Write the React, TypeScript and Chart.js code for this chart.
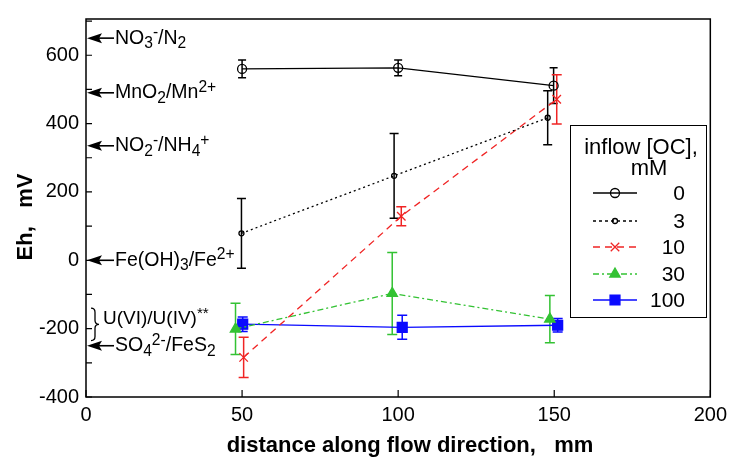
import React, { useEffect, useRef } from "react";
import { Chart, registerables } from "chart.js";
import { drawPoint } from "chart.js/helpers";

Chart.register(...registerables);

const FONT = '"Liberation Sans", Arial, Helvetica, sans-serif';

// ---- data ----
const seriesLabels = ["0", "3", "10", "30", "100"];

const x_0 = [50, 100, 149.8];
const y_0 = [560, 563, 511];
const e_0 = [26, 23, 52];

const x_3 = [49.8, 98.7, 147.9];
const y_3 = [79, 247, 417];
const e_3 = [102, 124, 79];

const x_10 = [50.5, 101, 150.8];
const y_10 = [-284, 129, 471];
const e_10 = [59, 28, 72];

const x_30 = [47.9, 98.1, 148.6];
const y_30 = [-201, -97, -172];
const e_30 = [75, 120, 69];

const x_100 = [50.2, 101.3, 151.1];
const y_100 = [-187, -196, -190];
const e_100 = [21, 35, 20];

const xTicks = [0, 50, 100, 150, 200];
const yTicks = [-400, -300, -200, -100, 0, 100, 200, 300, 400, 500, 600, 700];
const yLabelTicks = [-400, -200, 0, 200, 400, 600];

// redox couples (arrow positions in mV)
type Seg = { t: string; k?: "sub" | "sup" };
const coupleValues = [650, 490, 335, 0, -250];
const coupleTexts: Seg[][] = [
  [{ t: "NO" }, { t: "3", k: "sub" }, { t: "-", k: "sup" }, { t: "/N" }, { t: "2", k: "sub" }],
  [{ t: "MnO" }, { t: "2", k: "sub" }, { t: "/Mn" }, { t: "2+", k: "sup" }],
  [{ t: "NO" }, { t: "2", k: "sub" }, { t: "-", k: "sup" }, { t: "/NH" }, { t: "4", k: "sub" }, { t: "+", k: "sup" }],
  [{ t: "Fe(OH)" }, { t: "3", k: "sub" }, { t: "/Fe" }, { t: "2+", k: "sup" }],
  [{ t: "SO" }, { t: "4", k: "sub" }, { t: "2-", k: "sup" }, { t: "/FeS" }, { t: "2", k: "sub" }],
];
const uranRange = [-140, -235];
const uranTextValue = -172;
const uranText: Seg[] = [{ t: "U(VI)/U(IV)" }, { t: "**", k: "sup" }];

const legendTitle = ["inflow [OC],", "mM"];
const xTitle = "distance along flow direction,   mm";
const yTitle = "Eh,   mV";

type Style = {
  color: string;
  dash: number[];
  pointStyle: string;
  radius: number;
  filled: boolean;
  cap: number;
};
const styles: Style[] = [
  { color: "#000000", dash: [], pointStyle: "circle", radius: 4.5, filled: false, cap: 4 },
  { color: "#000000", dash: [2, 3], pointStyle: "circle", radius: 2.5, filled: false, cap: 4.5 },
  { color: "#f02424", dash: [7, 5], pointStyle: "crossRot", radius: 6, filled: false, cap: 5 },
  { color: "#33c233", dash: [6, 3, 2, 3], pointStyle: "triangle", radius: 6, filled: true, cap: 5 },
  { color: "#0a0aff", dash: [], pointStyle: "rect", radius: 7, filled: true, cap: 5 },
];

const xs = [x_0, x_3, x_10, x_30, x_100];
const ys = [y_0, y_3, y_10, y_30, y_100];
const es = [e_0, e_3, e_10, e_30, e_100];

function drawRich(ctx: CanvasRenderingContext2D, segs: Seg[], x: number, y: number, size: number) {
  let cx = x;
  ctx.textAlign = "left";
  ctx.textBaseline = "middle";
  for (const s of segs) {
    const fs = s.k ? size * 0.8 : size;
    ctx.font = `${fs}px ${FONT}`;
    const dy = s.k === "sub" ? size * 0.3 : s.k === "sup" ? -size * 0.28 : 0;
    ctx.fillText(s.t, cx, y + dy);
    cx += ctx.measureText(s.t).width;
  }
}

const overlay = {
  id: "overlay",
  beforeDatasetsDraw(chart: any) {
    const ctx: CanvasRenderingContext2D = chart.ctx;
    const xs_ = chart.scales.x;
    const ys_ = chart.scales.y;
    ctx.save();
    // error bars
    for (let s = 0; s < xs.length; s++) {
      const st = styles[s];
      ctx.strokeStyle = st.color;
      ctx.lineWidth = 1.5;
      ctx.setLineDash([]);
      for (let i = 0; i < xs[s].length; i++) {
        const px = xs_.getPixelForValue(xs[s][i]);
        const top = ys_.getPixelForValue(ys[s][i] + es[s][i]);
        const bot = ys_.getPixelForValue(ys[s][i] - es[s][i]);
        ctx.beginPath();
        ctx.moveTo(px, top);
        ctx.lineTo(px, bot);
        ctx.moveTo(px - st.cap, top);
        ctx.lineTo(px + st.cap, top);
        ctx.moveTo(px - st.cap, bot);
        ctx.lineTo(px + st.cap, bot);
        ctx.stroke();
      }
    }
    ctx.restore();
  },
  afterDraw(chart: any) {
    const ctx: CanvasRenderingContext2D = chart.ctx;
    const a = chart.chartArea;
    const xs_ = chart.scales.x;
    const ys_ = chart.scales.y;
    ctx.save();
    ctx.setLineDash([]);
    ctx.strokeStyle = "#000";
    ctx.fillStyle = "#000";
    // frame
    ctx.lineWidth = 1.5;
    ctx.strokeRect(a.left, a.top, a.right - a.left, a.bottom - a.top);
    // inward ticks
    ctx.lineWidth = 1.2;
    ctx.beginPath();
    for (const t of yTicks) {
      const py = ys_.getPixelForValue(t);
      ctx.moveTo(a.left, py);
      ctx.lineTo(a.left + 6, py);
    }
    for (const t of xTicks) {
      const px = xs_.getPixelForValue(t);
      ctx.moveTo(px, a.bottom);
      ctx.lineTo(px, a.bottom - 7);
    }
    ctx.stroke();

    // redox couple arrows
    for (let i = 0; i < coupleValues.length; i++) {
      const py = ys_.getPixelForValue(coupleValues[i]);
      const x0 = a.left + 1;
      ctx.beginPath();
      ctx.moveTo(x0, py);
      ctx.lineTo(x0 + 15, py - 5);
      ctx.lineTo(x0 + 12, py);
      ctx.lineTo(x0 + 15, py + 5);
      ctx.closePath();
      ctx.fill();
      ctx.lineWidth = 1.6;
      ctx.beginPath();
      ctx.moveTo(x0 + 11, py);
      ctx.lineTo(x0 + 27, py);
      ctx.stroke();
      drawRich(ctx, coupleTexts[i], x0 + 28, py, 19.5);
    }
    // uranium brace
    {
      const t = ys_.getPixelForValue(uranRange[0]);
      const b = ys_.getPixelForValue(uranRange[1]);
      const m = (t + b) / 2;
      const xl = a.left + 5;
      const xc = a.left + 9;
      const xr = a.left + 13;
      ctx.lineWidth = 1.3;
      ctx.beginPath();
      ctx.moveTo(xl, t);
      ctx.quadraticCurveTo(xc, t, xc, t + 4);
      ctx.lineTo(xc, m - 4);
      ctx.quadraticCurveTo(xc, m, xr, m);
      ctx.quadraticCurveTo(xc, m, xc, m + 4);
      ctx.lineTo(xc, b - 4);
      ctx.quadraticCurveTo(xc, b, xl, b);
      ctx.stroke();
      drawRich(ctx, uranText, a.left + 17, ys_.getPixelForValue(uranTextValue), 19);
    }

    // axis titles
    ctx.fillStyle = "#000";
    ctx.font = `bold 22px ${FONT}`;
    ctx.textAlign = "center";
    ctx.textBaseline = "middle";
    ctx.fillText(xTitle, 410, 446);
    ctx.save();
    ctx.translate(26, 217);
    ctx.rotate(-Math.PI / 2);
    ctx.fillText(yTitle, 0, 0);
    ctx.restore();

    // legend
    const L = 570.5, T = 125.5, W = 136, H = 192;
    ctx.fillStyle = "#fff";
    ctx.fillRect(L, T, W, H);
    ctx.strokeStyle = "#000";
    ctx.lineWidth = 1;
    ctx.strokeRect(L, T, W, H);
    ctx.fillStyle = "#000";
    ctx.font = `22px ${FONT}`;
    ctx.textAlign = "center";
    ctx.fillText(legendTitle[0], 641, 148);
    ctx.fillText(legendTitle[1], 649, 169);
    const rowY = [193, 221, 247, 274, 300];
    for (let s = 0; s < styles.length; s++) {
      const st = styles[s];
      const y = rowY[s];
      ctx.strokeStyle = st.color;
      ctx.lineWidth = 1.3;
      ctx.setLineDash(s === 1 ? [3, 3] : st.dash);
      ctx.beginPath();
      ctx.moveTo(593, y);
      ctx.lineTo(637, y);
      ctx.stroke();
      ctx.setLineDash([]);
      ctx.fillStyle = st.filled ? st.color : "rgba(0,0,0,0)";
      ctx.lineWidth = 1.3;
      drawPoint(ctx, { pointStyle: st.pointStyle, radius: st.radius, rotation: 0, borderWidth: 1.3 } as any, 615, y);
      ctx.fillStyle = "#000";
      ctx.font = `21px ${FONT}`;
      ctx.textAlign = "right";
      ctx.textBaseline = "middle";
      ctx.fillText(seriesLabels[s], 685, y + 1);
    }
    ctx.restore();
  },
};

export default function App() {
  const ref = useRef<HTMLCanvasElement | null>(null);
  useEffect(() => {
    if (!ref.current) return;
    const datasets = styles.map((st, s) => ({
      label: seriesLabels[s],
      data: xs[s].map((x, i) => ({ x, y: ys[s][i] })),
      borderColor: st.color,
      backgroundColor: st.filled ? st.color : "rgba(0,0,0,0)",
      borderWidth: 1.3,
      borderDash: st.dash,
      pointStyle: st.pointStyle,
      pointRadius: st.radius,
      pointBorderWidth: 1.3,
      pointBorderColor: st.color,
      pointBackgroundColor: st.filled ? st.color : "rgba(0,0,0,0)",
      showLine: true,
      tension: 0,
      fill: false,
    }));
    const chart = new Chart(ref.current, {
      type: "line",
      data: { datasets },
      options: {
        responsive: false,
        animation: false,
        devicePixelRatio: 1,
        layout: { padding: { top: 12, right: 21, left: 0, bottom: 0 } },
        plugins: { legend: { display: false }, tooltip: { enabled: false } },
        scales: {
          x: {
            type: "linear",
            min: 0,
            max: 200,
            grid: { display: false, drawTicks: false },
            border: { display: false },
            ticks: {
              stepSize: 50,
              color: "#000",
              font: { size: 20, family: FONT },
              padding: 6,
              maxRotation: 0,
              autoSkip: false,
            },
            afterFit: (sc: any) => {
              sc.height = 63;
            },
          },
          y: {
            type: "linear",
            min: -400,
            max: 706,
            grid: { display: false, drawTicks: false },
            border: { display: false },
            afterBuildTicks: (sc: any) => {
              sc.ticks = yLabelTicks.map((v) => ({ value: v }));
            },
            ticks: {
              autoSkip: false,
              color: "#000",
              font: { size: 20, family: FONT },
              padding: 7,
              callback: (v: any) => String(v),
            },
            afterFit: (sc: any) => {
              sc.width = 86;
            },
          },
        },
      } as any,
      plugins: [overlay],
    });
    return () => chart.destroy();
  }, []);
  return (
    <div style={{ position: "absolute", left: 0, top: 0, width: 733, height: 460, background: "#fff" }}>
      <canvas ref={ref} width={733} height={460} />
    </div>
  );
}
